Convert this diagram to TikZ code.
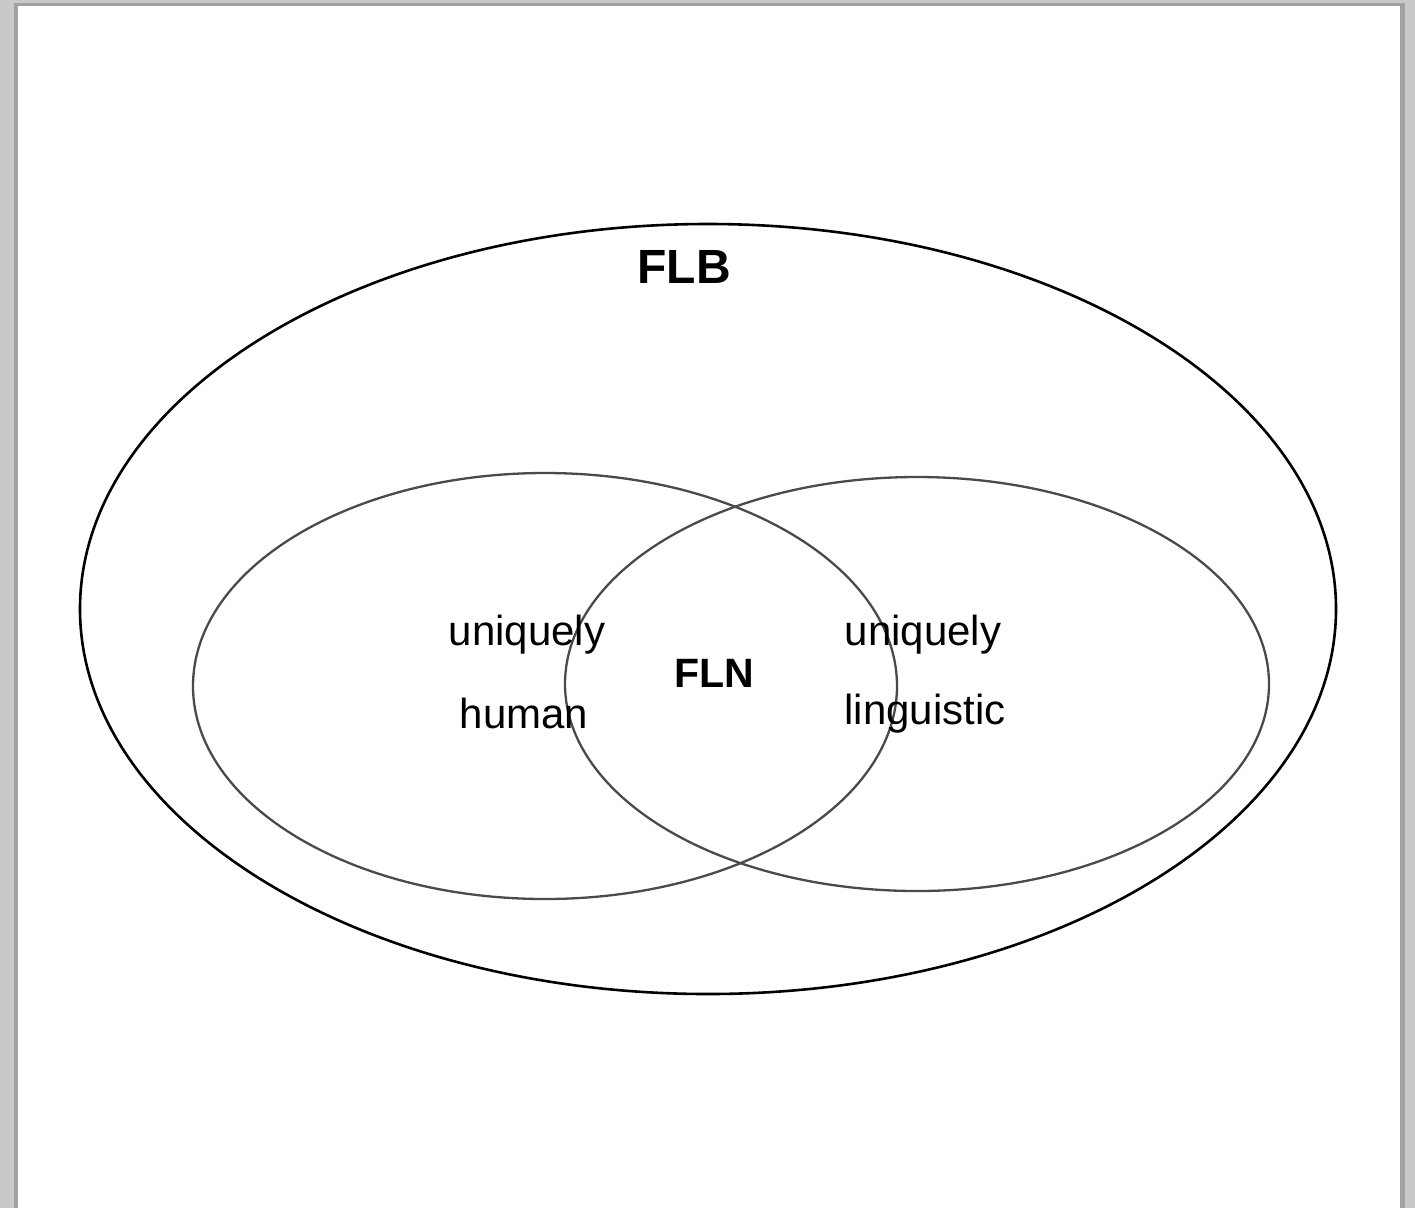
\documentclass[tikz,border=0pt]{standalone}
\usepackage{fontspec}
\setmainfont{Liberation Sans}
\definecolor{bggray}{HTML}{C8C9C8}
\definecolor{shadow}{HTML}{A0A1A0}
\definecolor{innerline}{HTML}{4A4A4A}
\begin{document}
\begin{tikzpicture}[x=1pt,y=-1pt,
  outerset/.style={draw=black,line width=2.6pt},
  innerset/.style={draw=innerline,line width=2.3pt},
  lbl/.style={font=\fontsize{42}{50}\selectfont,text=black,inner sep=0pt},
  boldlbl/.style={font=\fontsize{41}{48}\selectfont\bfseries,text=black,inner sep=0pt}]
\useasboundingbox (0,0) rectangle (1415,1208);
% background page
\fill[bggray] (0,0) rectangle (1415,1208);
\fill[shadow] (14,3) rectangle (1405,1208);
\fill[white] (18,6) rectangle (1400,1208);
% sets
\draw[outerset] (708,609) ellipse [x radius=628, y radius=385];
\draw[innerset] (545,686) ellipse [x radius=352, y radius=213];
\draw[innerset] (917,684) ellipse [x radius=352, y radius=207];
% labels
\node[boldlbl,font=\fontsize{48}{56}\selectfont\bfseries] (flb) at (684,267) {FLB};
\node[boldlbl] (fln) at (714,673) {FLN};
\node[lbl,anchor=base] (u1) at (527,645) {uniquely};
\node[lbl,anchor=base] (h1) at (524,728) {human};
\node[lbl,anchor=base] (u2) at (923,645) {uniquely};
\node[lbl,anchor=base] (l2) at (925,724) {linguistic};
\end{tikzpicture}
\end{document}
